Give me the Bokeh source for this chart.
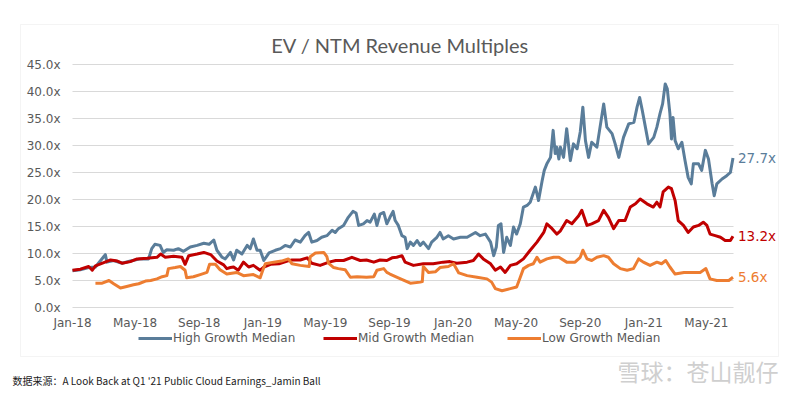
import pandas as pd
from bokeh.plotting import figure
from bokeh.models import (FixedTicker, PrintfTickFormatter, DatetimeTickFormatter, Legend,
                          LegendItem, Label, BoxAnnotation, Range1d)
from bokeh.embed import file_html
from bokeh.resources import INLINE

# ---------------- data ----------------
title_text = "EV / NTM Revenue Multiples"
series_names = ["High Growth Median", "Mid Growth Median", "Low Growth Median"]
series_colors = ["#5a7d9a", "#c00000", "#ed7d31"]
end_labels = ["27.7x", "13.2x", "5.6x"]

x_tick_dates = ["2018-01-01", "2018-05-01", "2018-09-01", "2019-01-01", "2019-05-01", "2019-09-01",
                "2020-01-01", "2020-05-01", "2020-09-01", "2021-01-01", "2021-05-01"]
y_ticks = [0, 5, 10, 15, 20, 25, 30, 35, 40, 45]

high_dates = ["2018-01-01", "2018-01-16", "2018-02-01", "2018-02-14", "2018-03-01", "2018-03-05", "2018-03-08",
              "2018-03-21", "2018-04-06", "2018-04-22", "2018-05-11", "2018-05-27", "2018-06-02", "2018-06-08",
              "2018-06-18", "2018-06-24", "2018-07-01", "2018-07-14", "2018-07-23", "2018-08-02", "2018-08-15",
              "2018-08-28", "2018-09-10", "2018-09-20", "2018-09-29", "2018-10-05", "2018-10-15", "2018-10-21",
              "2018-10-31", "2018-11-06", "2018-11-12", "2018-11-22", "2018-12-02", "2018-12-08", "2018-12-14",
              "2018-12-21", "2018-12-27", "2019-01-03", "2019-01-13", "2019-01-25", "2019-02-04", "2019-02-13",
              "2019-02-23", "2019-03-04", "2019-03-14", "2019-03-23", "2019-03-30", "2019-04-05", "2019-04-15",
              "2019-04-24", "2019-05-04", "2019-05-14", "2019-05-20", "2019-05-26", "2019-06-05", "2019-06-14",
              "2019-06-23", "2019-06-29", "2019-07-04", "2019-07-13", "2019-07-20", "2019-07-26", "2019-08-03",
              "2019-08-08", "2019-08-14", "2019-08-21", "2019-08-27", "2019-09-02", "2019-09-08", "2019-09-12",
              "2019-09-18", "2019-09-25", "2019-10-01", "2019-10-05", "2019-10-11", "2019-10-17", "2019-10-24",
              "2019-10-30", "2019-11-05", "2019-11-15", "2019-11-21", "2019-12-01", "2019-12-07", "2019-12-13",
              "2019-12-23", "2020-01-02", "2020-01-15", "2020-01-28", "2020-02-13", "2020-02-22", "2020-03-03",
              "2020-03-13", "2020-03-19", "2020-03-24", "2020-03-28", "2020-04-02", "2020-04-07", "2020-04-13",
              "2020-04-20", "2020-04-26", "2020-05-02", "2020-05-09", "2020-05-15", "2020-05-22", "2020-05-28",
              "2020-06-07", "2020-06-13", "2020-06-20", "2020-06-24", "2020-06-29", "2020-07-06", "2020-07-11",
              "2020-07-15", "2020-07-18", "2020-07-22", "2020-07-25", "2020-07-31", "2020-08-06", "2020-08-13",
              "2020-08-19", "2020-08-26", "2020-09-01", "2020-09-06", "2020-09-11", "2020-09-17", "2020-09-23",
              "2020-10-03", "2020-10-09", "2020-10-16", "2020-10-22", "2020-11-01", "2020-11-07", "2020-11-14",
              "2020-11-23", "2020-12-03", "2020-12-13", "2020-12-19", "2020-12-24", "2020-12-29", "2021-01-04",
              "2021-01-10", "2021-01-20", "2021-01-26", "2021-02-01", "2021-02-06", "2021-02-11", "2021-02-15",
              "2021-02-20", "2021-02-23", "2021-02-26", "2021-03-02", "2021-03-08", "2021-03-15", "2021-03-21",
              "2021-03-27", "2021-04-02", "2021-04-06", "2021-04-16", "2021-04-22", "2021-04-29", "2021-05-05",
              "2021-05-12", "2021-05-16", "2021-05-21", "2021-05-31", "2021-06-09", "2021-06-16", "2021-06-21"]
high_vals = [6.8, 7.0, 7.4, 7.5, 9.3, 9.8, 8.4,
             8.7, 8.2, 8.6, 9.0, 9.0, 10.9, 11.7,
             11.5, 10.2, 10.7, 10.6, 10.9, 10.4, 11.2,
             11.5, 11.9, 11.7, 12.5, 10.6, 9.3, 9.0,
             10.2, 8.8, 10.6, 9.9, 11.5, 10.9, 12.7,
             10.6, 10.6, 8.7, 10.1, 10.6, 10.9, 11.5,
             11.2, 12.5, 12.1, 13.3, 13.9, 12.1, 12.4,
             13.0, 13.3, 14.3, 13.9, 14.6, 15.2, 16.7,
             17.8, 17.5, 15.2, 15.5, 16.1, 15.8, 17.3,
             15.2, 17.3, 17.6, 15.5, 16.7, 17.8, 16.1,
             15.2, 13.3, 13.0, 10.9, 12.1, 11.5, 12.4,
             11.5, 12.1, 10.9, 12.1, 13.0, 13.9, 12.7,
             13.3, 12.7, 13.0, 13.0, 13.9, 13.3, 13.6,
             12.1, 9.6, 11.2, 15.2, 15.5, 10.2, 13.0,
             11.5, 14.9, 13.6, 15.5, 18.6, 18.9, 19.5,
             22.3, 19.8, 23.5, 25.4, 26.6, 27.8, 32.8,
             28.5, 29.7, 27.5, 29.7, 27.8, 33.1, 27.2,
             30.3, 29.4, 32.5, 37.1, 30.9, 27.8, 30.6,
             29.7, 33.4, 37.7, 33.4, 32.2, 30.3, 27.8,
             31.5, 34.0, 34.3, 37.1, 38.9, 36.5, 33.4,
             30.3, 31.5, 33.4, 35.9, 37.7, 41.4, 40.5,
             35.9, 31.2, 35.2, 30.9, 29.4, 30.6, 27.2,
             24.1, 22.9, 26.6, 26.6, 25.4, 29.1, 27.5,
             22.9, 20.7, 22.9, 23.8, 24.4, 25.0, 27.7]

mid_dates = ["2018-01-01", "2018-01-16", "2018-02-01", "2018-02-08", "2018-02-14", "2018-03-02", "2018-03-15",
             "2018-03-28", "2018-04-06", "2018-04-22", "2018-05-05", "2018-05-24", "2018-06-12", "2018-06-19",
             "2018-06-28", "2018-07-14", "2018-07-30", "2018-08-05", "2018-08-12", "2018-08-28", "2018-09-10",
             "2018-09-23", "2018-10-05", "2018-10-18", "2018-10-24", "2018-10-31", "2018-11-06", "2018-11-15",
             "2018-11-25", "2018-12-05", "2018-12-14", "2018-12-27", "2019-01-03", "2019-01-16", "2019-02-01",
             "2019-02-17", "2019-02-26", "2019-03-14", "2019-03-27", "2019-04-05", "2019-04-21", "2019-05-08",
             "2019-05-21", "2019-06-05", "2019-06-21", "2019-07-07", "2019-07-19", "2019-08-02", "2019-08-14",
             "2019-08-27", "2019-09-06", "2019-09-15", "2019-09-25", "2019-10-01", "2019-10-17", "2019-11-05",
             "2019-11-24", "2019-12-13", "2019-12-26", "2020-01-08", "2020-01-28", "2020-02-09", "2020-02-19",
             "2020-02-28", "2020-03-13", "2020-03-22", "2020-04-01", "2020-04-10", "2020-04-20", "2020-05-02",
             "2020-05-15", "2020-05-28", "2020-06-10", "2020-06-23", "2020-06-29", "2020-07-09", "2020-07-18",
             "2020-07-25", "2020-08-06", "2020-08-16", "2020-08-29", "2020-09-04", "2020-09-14", "2020-09-23",
             "2020-10-06", "2020-10-16", "2020-10-25", "2020-11-04", "2020-11-14", "2020-11-26", "2020-12-06",
             "2020-12-16", "2020-12-25", "2021-01-07", "2021-01-19", "2021-01-26", "2021-02-01", "2021-02-07",
             "2021-02-17", "2021-02-23", "2021-03-02", "2021-03-08", "2021-03-18", "2021-03-27", "2021-04-06",
             "2021-04-16", "2021-04-25", "2021-05-02", "2021-05-08", "2021-05-18", "2021-05-28", "2021-06-06",
             "2021-06-16", "2021-06-21"]
mid_vals = [6.9, 7.1, 7.6, 6.9, 7.7, 8.3, 8.8,
            8.6, 8.2, 8.5, 9.0, 9.1, 9.3, 9.9,
            9.3, 9.5, 9.3, 8.0, 9.6, 9.9, 10.2,
            9.8, 8.6, 7.9, 7.2, 7.4, 7.5, 6.9,
            8.4, 7.5, 7.8, 6.9, 7.5, 8.0, 8.1,
            8.6, 8.8, 8.8, 9.2, 8.2, 7.8, 8.4,
            8.7, 8.7, 9.3, 8.7, 8.8, 8.4, 8.8,
            8.7, 9.2, 9.3, 9.6, 8.4, 7.8, 8.1,
            8.1, 8.4, 8.5, 8.2, 8.4, 8.7, 9.9,
            9.0, 8.1, 6.9, 7.5, 6.5, 7.8, 8.1,
            9.0, 10.6, 12.1, 13.9, 15.5, 14.6, 13.6,
            14.2, 16.1, 15.5, 17.0, 18.0, 15.2, 15.5,
            16.1, 18.0, 16.7, 14.6, 16.1, 16.1, 18.6,
            19.2, 20.1, 19.2, 18.6, 19.5, 18.6, 21.4,
            22.3, 22.0, 19.8, 16.1, 15.2, 13.9, 14.9,
            15.2, 15.8, 15.2, 13.6, 13.3, 13.0, 12.4,
            12.4, 13.2]

low_dates = ["2018-02-14", "2018-02-27", "2018-03-12", "2018-03-21", "2018-04-03", "2018-04-15", "2018-04-28",
             "2018-05-08", "2018-05-21", "2018-05-31", "2018-06-12", "2018-06-22", "2018-07-01", "2018-07-04",
             "2018-07-17", "2018-07-27", "2018-08-05", "2018-08-08", "2018-08-21", "2018-09-03", "2018-09-16",
             "2018-09-21", "2018-10-02", "2018-10-11", "2018-10-24", "2018-11-12", "2018-11-25", "2018-12-14",
             "2018-12-27", "2019-01-01", "2019-01-06", "2019-01-22", "2019-02-06", "2019-02-19", "2019-02-26",
             "2019-03-14", "2019-03-31", "2019-04-02", "2019-04-12", "2019-04-28", "2019-05-04", "2019-05-07",
             "2019-05-17", "2019-05-26", "2019-06-08", "2019-06-18", "2019-07-01", "2019-07-19", "2019-08-02",
             "2019-08-08", "2019-08-21", "2019-08-27", "2019-09-02", "2019-09-18", "2019-10-11", "2019-10-30",
             "2019-11-03", "2019-11-05", "2019-11-15", "2019-11-28", "2019-12-07", "2019-12-23", "2020-01-02",
             "2020-01-12", "2020-01-28", "2020-02-16", "2020-03-06", "2020-03-15", "2020-03-22", "2020-04-04",
             "2020-04-20", "2020-05-02", "2020-05-09", "2020-05-15", "2020-05-25", "2020-06-03", "2020-06-10",
             "2020-06-16", "2020-06-29", "2020-07-12", "2020-07-22", "2020-08-06", "2020-08-22", "2020-09-01",
             "2020-09-06", "2020-09-14", "2020-09-23", "2020-10-03", "2020-10-16", "2020-10-25", "2020-11-04",
             "2020-11-17", "2020-11-30", "2020-12-12", "2020-12-22", "2020-12-31", "2021-01-13", "2021-01-26",
             "2021-02-04", "2021-02-12", "2021-02-20", "2021-03-02", "2021-03-19", "2021-04-06", "2021-04-19",
             "2021-04-30", "2021-05-08", "2021-05-21", "2021-06-03", "2021-06-13", "2021-06-21"]
low_vals = [4.5, 4.5, 5.0, 4.4, 3.6, 3.9, 4.2,
            4.4, 4.9, 5.0, 5.3, 5.7, 5.9, 7.2,
            7.4, 7.6, 6.9, 5.5, 5.7, 6.1, 6.5,
            8.0, 8.0, 7.0, 6.2, 6.5, 5.9, 6.1,
            5.5, 6.9, 8.1, 8.4, 8.6, 9.0, 8.1,
            7.8, 7.6, 9.4, 10.1, 10.2, 9.4, 8.2,
            7.4, 7.2, 7.0, 5.6, 5.7, 5.6, 5.7,
            6.9, 7.2, 6.5, 6.2, 5.5, 4.5, 4.7,
            4.8, 7.6, 6.5, 6.6, 7.4, 7.6, 8.1,
            6.4, 5.9, 5.6, 5.3, 4.7, 3.5, 3.1,
            3.5, 3.8, 5.6, 7.2, 7.8, 8.1, 9.3,
            8.4, 9.0, 9.3, 9.3, 8.4, 8.4, 9.3,
            10.6, 9.0, 8.7, 9.3, 9.6, 9.3, 8.1,
            7.2, 6.9, 7.2, 9.0, 8.4, 7.8, 8.4,
            8.1, 8.7, 7.5, 6.2, 6.5, 6.5, 6.5,
            7.2, 5.3, 5.0, 5.0, 5.0, 5.6]

x_start, x_end = "2018-01-01", "2021-06-22"
y_start, y_end = 0, 45
source_text = "数据来源：A Look Back at Q1 '21 Public Cloud Earnings_Jamin Ball"
watermark_text = "雪球：苍山靓仔"

# ---------------- layout (pixels) ----------------
W, H = 790, 390
PX_L, PX_R = 72, 733      # plot area left/right
PX_T, PX_B = 64, 307      # plot area top/bottom
LEGEND_X = [138, 323, 507]
LEGEND_BOTTOM = 348


def ms(d):
    return pd.Timestamp(d).value / 1e6


ms_per_px = (ms(x_end) - ms(x_start)) / (PX_R - PX_L)
u_per_px = (y_end - y_start) / (PX_B - PX_T)
x_range = Range1d(ms(x_start) - PX_L * ms_per_px, ms(x_end) + (W - PX_R) * ms_per_px)
y_range = Range1d(y_start - (H - PX_B) * u_per_px, y_end + PX_T * u_per_px)

p = figure(width=W, height=H, x_axis_type="datetime", output_backend="svg", toolbar_location=None,
           x_range=x_range, y_range=y_range,
           min_border_left=0, min_border_right=0, min_border_top=0, min_border_bottom=0)
p.min_border = 0
p.outline_line_color = None
p.background_fill_color = "white"
p.border_fill_color = "white"
p.xgrid.visible = False
p.ygrid.visible = False

# horizontal gridlines over the plot area
p.segment(x0=[ms(x_start)] * len(y_ticks), x1=[ms(x_end)] * len(y_ticks), y0=y_ticks, y1=y_ticks,
          line_color="#d9d9d9", line_width=1)

p.xaxis.fixed_location = y_start
p.yaxis.fixed_location = ms(x_start)
p.yaxis.ticker = FixedTicker(ticks=y_ticks)
p.yaxis.formatter = PrintfTickFormatter(format="%.1fx")
p.xaxis.ticker = FixedTicker(ticks=[ms(d) for d in x_tick_dates])
p.xaxis.formatter = DatetimeTickFormatter(days="%b-%y", months="%b-%y", years="%b-%y")
for ax in (p.xaxis, p.yaxis):
    ax.axis_line_color = None
    ax.major_tick_line_color = None
    ax.minor_tick_line_color = None
    ax.major_tick_out = 0
    ax.major_tick_in = 0
    ax.minor_tick_out = 0
    ax.minor_tick_in = 0
    ax.major_label_text_font = "DejaVu Sans"
    ax.major_label_text_font_size = "12px"
    ax.major_label_text_color = "#595959"
p.xaxis.major_label_standoff = 8
p.yaxis.major_label_standoff = 12

all_dates = [high_dates, mid_dates, low_dates]
all_vals = [high_vals, mid_vals, low_vals]
renderers = []
for d, v, c in zip(all_dates, all_vals, series_colors):
    r = p.line(x=pd.to_datetime(d), y=v, line_color=c, line_width=3, line_join="round")
    renderers.append(r)

for n, r, lx in zip(series_names, renderers, LEGEND_X):
    lg = Legend(items=[LegendItem(label=n, renderers=[r])],
                location=(lx, H - LEGEND_BOTTOM), orientation="horizontal", glyph_width=34,
                glyph_height=20, label_standoff=1, padding=0, margin=0, border_line_color=None,
                background_fill_alpha=0, label_text_font="DejaVu Sans", label_text_font_size="12px",
                label_text_color="#595959", label_text_baseline="middle")
    p.add_layout(lg)

# end-of-series value labels
for d, v, c, t in zip(all_dates, all_vals, series_colors, end_labels):
    p.add_layout(Label(x=ms(d[-1]), y=v[-1], x_offset=5, text=t, text_color=c,
                       text_font="DejaVu Sans", text_font_size="13.5px", text_baseline="middle"))

# chart border
p.add_layout(BoxAnnotation(left=20, right=778, top=H - 24, bottom=H - 356,
                           left_units="screen", right_units="screen", top_units="screen",
                           bottom_units="screen", fill_alpha=0, line_color="#d9d9d9", line_width=1))

p.add_layout(Label(x=399.5, y=H - 44, x_units="screen", y_units="screen", text=title_text,
                   text_align="center", text_baseline="middle", text_font="Lato",
                   text_font_size="20px", text_color="#595959"))
p.add_layout(Label(x=12, y=H - 380, x_units="screen", y_units="screen", text=source_text,
                   text_baseline="middle", text_font="Noto Sans CJK SC",
                   text_font_size="10px", text_color="#1a1a1a"))
p.add_layout(Label(x=617, y=H - 370, x_units="screen", y_units="screen", text=watermark_text,
                   text_baseline="middle", text_font="Noto Sans CJK SC",
                   text_font_size="23px", text_color="#cfcfcf"))

open("out.html", "w").write(file_html(p, INLINE))
